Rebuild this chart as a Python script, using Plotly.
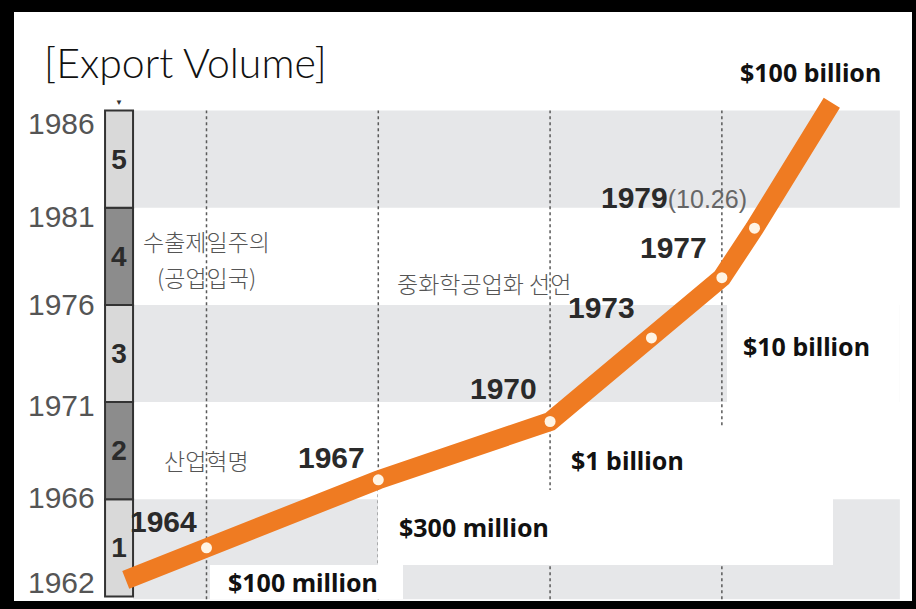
import plotly.graph_objects as go

# band boundaries on the y scale, bottom to top (0 = 1962 ... 5 = 1986)
band_years = [1962, 1966, 1971, 1976, 1981, 1986]
periods = ["1", "2", "3", "4", "5"]

# export milestones on the x scale, one dotted line each (0 = $100 million)
export_levels = ["$100 million", "$300 million", "$1 billion", "$10 billion", "$100 billion"]

# orange path: x on the export scale, y on the band scale
path_x = [-0.47, 0.0, 1.0, 2.0, 2.59, 3.0, 3.19, 3.64]
path_y = [0.17, 0.5, 1.2, 1.8, 2.66, 3.28, 3.79, 5.08]
path_years = ["", "1964", "1967", "1970", "1973", "1977", "1979", ""]
path_notes = ["", "", "", "", "", "", "(10.26)", ""]

phases = ["산업혁명", "중화학공업화 선언", "수출제일주의", "(공업입국)"]

ORANGE = "#EF7B22"
BAND = "#E6E7E9"
NUM = "Liberation Sans, Arial, sans-serif"
KR = "Noto Sans CJK KR, sans-serif"
BOLD = "Noto Sans, sans-serif"

W, H = 916, 609
XR = [-1.202, 4.130]
YR = [-0.1297, 6.138]

fig = go.Figure()

# period column 1..5
fig.add_trace(go.Bar(
    x=[-0.509] * len(periods), y=[1] * len(periods), base=list(range(len(periods))),
    width=0.163, text=["<b>" + p + "</b>" for p in periods], textposition="inside",
    insidetextanchor="middle", textangle=0, constraintext="none",
    textfont=dict(family=NUM, size=28, color="#2b2b2b"),
    marker=dict(color=["#d9d9d9" if i % 2 == 0 else "#8c8c8c" for i in range(len(periods))],
                line=dict(color="#333333", width=2)),
    hoverinfo="skip", showlegend=False,
))

# orange export path
fig.add_trace(go.Scatter(
    x=path_x, y=path_y, mode="lines",
    line=dict(color=ORANGE, width=19), hoverinfo="skip", showlegend=False,
))
fig.add_trace(go.Scatter(
    x=path_x[1:-1], y=path_y[1:-1], mode="markers",
    marker=dict(color="#FFF4E4", size=11, line=dict(width=0)),
    hoverinfo="skip", showlegend=False,
))

shapes = []
for i in (0, 2, 4):
    shapes.append(dict(type="rect", xref="x", yref="y", x0=-0.428, x1=4.036,
                       y0=i - (0.03 if i == 0 else 0), y1=i + 1,
                       fillcolor=BAND, line=dict(width=0), layer="below"))
for i in range(4):
    shapes.append(dict(type="line", xref="x", yref="y", x0=i, x1=i, y0=-0.03, y1=5,
                       line=dict(color="#5a5a5a", width=1.5, dash="dot"), layer="below"))
# white label boxes
for x0, x1, y0, y1 in [(0.02, 1.144, -0.03, 0.323), (0.998, 3.647, 0.323, 1.095),
                       (2.02, 3.047, 1.095, 1.733), (3.03, 4.036, 1.95, 3.0)]:
    shapes.append(dict(type="rect", xref="x", yref="y", x0=x0, x1=x1, y0=y0, y1=y1,
                       fillcolor="white", line=dict(width=0), layer="below"))
# black frame
for x0, x1, y0, y1 in [(0, 1, 1 - 12 / H, 1), (0, 14 / W, 0, 1),
                       (0, 1, 0, 8 / H), (1 - 4 / W, 1, 0, 1)]:
    shapes.append(dict(type="rect", xref="paper", yref="paper", x0=x0, x1=x1, y0=y0, y1=y1,
                       fillcolor="black", line=dict(width=0), layer="above"))

ann = []
ann.append(dict(xref="paper", yref="paper", x=42 / W, y=1 - 63 / H, xanchor="left",
                yanchor="middle", text="[Export Volume]", showarrow=False,
                font=dict(family="Lato, sans-serif", size=41, color="#111", weight=300)))

# year ticks on the left
tick_shift = [14, 2, -3, 0, -9, -13]
for i, yr in enumerate(band_years):
    ann.append(dict(xref="paper", yref="y", x=26 / W, y=i, yshift=tick_shift[i],
                    xanchor="left", yanchor="middle", text=str(yr), showarrow=False,
                    font=dict(family=NUM, size=30, color="#555")))
ann.append(dict(xref="x", yref="y", x=-0.509, y=5, yshift=9, text="▼", showarrow=False,
                font=dict(size=8, color="#333")))

# export milestone labels
level_y = [0.148, 0.714, 1.404, 2.578]
for i, y in enumerate(level_y):
    ann.append(dict(xref="x", yref="y", x=i, xshift=19, y=y, xanchor="left",
                    yanchor="middle", text="<b>" + export_levels[i] + "</b>", showarrow=False,
                    font=dict(family=BOLD, size=25, color="#111")))
ann.append(dict(xref="x", yref="y", x=3.094, y=5.397, xanchor="left", yanchor="middle",
                text="<b>" + export_levels[4] + "</b>", showarrow=False,
                font=dict(family=BOLD, size=25, color="#111")))

# year labels on the path
lab_shift = [None, (-8, 26), (-11, 22), (-11, 33), (-14, 30), (-13, 30), (-6, 31), None]
for i, yr in enumerate(path_years):
    if not yr:
        continue
    txt = "<b>" + yr + "</b>"
    if path_notes[i]:
        txt += "<span style='font-size:25px;color:#666'>" + path_notes[i] + "</span>"
    dx, dy = lab_shift[i]
    ann.append(dict(xref="x", yref="y", x=path_x[i], y=path_y[i], xshift=dx, yshift=dy,
                    xanchor="right", yanchor="middle", text=txt, showarrow=False,
                    font=dict(family=NUM, size=30, color="#2a2a2a")))

# Korean phase notes
for txt, x, y in [(phases[0], 0.0, 1.404), (phases[1], 1.615, 3.227),
                  (phases[2], 0.0, 3.657), (phases[3], 0.0, 3.287)]:
    ann.append(dict(xref="x", yref="y", x=x, y=y, xanchor="center", yanchor="middle",
                    text=txt, showarrow=False,
                    font=dict(family=KR, size=23, color="#555", weight=300)))

fig.update_layout(
    width=W, height=H, autosize=False,
    margin=dict(l=0, r=0, t=0, b=0),
    paper_bgcolor="white", plot_bgcolor="white",
    xaxis=dict(range=XR, visible=False, fixedrange=True),
    yaxis=dict(range=YR, visible=False, fixedrange=True),
    shapes=shapes, annotations=ann, showlegend=False,
)

fig.write_html("out.html", config={"displayModeBar": False},
               post_script="document.body.style.margin='0';")
